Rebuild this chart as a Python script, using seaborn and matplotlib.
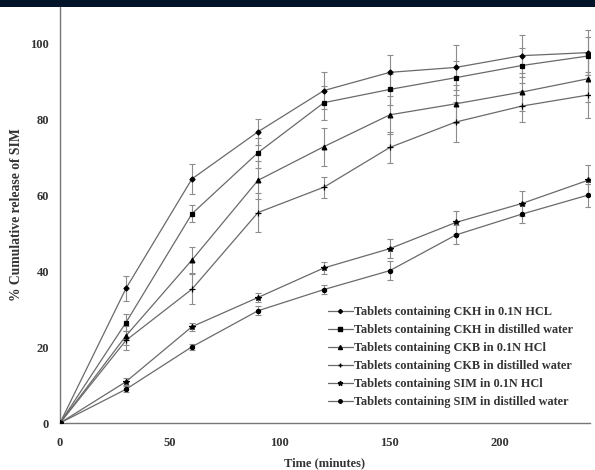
import matplotlib
matplotlib.use("Agg")
import matplotlib.pyplot as plt
from matplotlib.lines import Line2D
from matplotlib.patches import Rectangle
import numpy as np
import pandas as pd
import seaborn as sns

# Sampling times (minutes)
time_min = [0, 30, 60, 90, 120, 150, 180, 210, 240]

series_labels = [
    "Tablets containing CKH in 0.1N HCL",
    "Tablets containing CKH in distilled water",
    "Tablets containing CKB in 0.1N HCl",
    "Tablets containing CKB in distilled water",
    "Tablets containing SIM in 0.1N HCl",
    "Tablets containing SIM in distilled water",
]

# Mean cumulative release (%)
ckh_hcl = [0, 35.5, 64.4, 76.8, 87.7, 92.5, 93.8, 96.9, 97.7]
ckh_water = [0, 26.5, 55.2, 71.3, 84.5, 88.0, 91.1, 94.3, 96.8]
ckb_hcl = [0, 23.0, 43.0, 64.0, 72.9, 81.3, 84.2, 87.3, 90.8]
ckb_water = [0, 21.8, 35.3, 55.5, 62.2, 72.7, 79.4, 83.6, 86.5]
sim_hcl = [0, 10.9, 25.4, 33.1, 40.9, 46.0, 52.9, 57.9, 64.0]
sim_water = [0, 8.9, 20.1, 29.6, 35.2, 40.2, 49.6, 55.1, 60.1]

# Standard deviations
ckh_hcl_sd = [0, 3.4, 4.0, 3.4, 5.0, 4.7, 6.0, 5.5, 6.0]
ckh_water_sd = [0, 2.2, 2.2, 4.0, 4.5, 4.0, 4.5, 4.5, 5.0]
ckb_hcl_sd = [0, 2.5, 3.3, 5.0, 5.0, 5.0, 5.0, 5.0, 6.0]
ckb_water_sd = [0, 2.6, 3.9, 5.2, 2.8, 4.0, 5.4, 4.1, 6.0]
sim_hcl_sd = [0, 1.0, 1.0, 1.2, 1.5, 2.5, 3.0, 3.4, 4.0]
sim_water_sd = [0, 0.8, 0.8, 1.2, 1.2, 2.5, 2.5, 2.3, 3.0]

means = [ckh_hcl, ckh_water, ckb_hcl, ckb_water, sim_hcl, sim_water]
sds = [ckh_hcl_sd, ckh_water_sd, ckb_hcl_sd, ckb_water_sd, sim_hcl_sd, sim_water_sd]
marker_list = ["D", "s", "^", "+", "*", "o"]
marker_sizes = [2.6, 3.4, 3.4, 4.0, 4.0, 3.0]

x_ticks = [0, 50, 100, 150, 200]
y_ticks = [0, 20, 40, 60, 80, 100]

rows = []
for lab, m in zip(series_labels, means):
    for t, v in zip(time_min, m):
        rows.append({"Time": t, "Release": v, "Formulation": lab})
df = pd.DataFrame(rows)

sns.set_theme(style="white")
plt.rcParams["font.family"] = ["Liberation Serif", "DejaVu Serif"]
plt.rcParams["font.weight"] = "bold"

fig = plt.figure(figsize=(5.95, 4.7), dpi=100)
ax = fig.add_axes([60 / 595, 47 / 470, 530 / 595, 417 / 470])

line_color = "#6a6a6a"
text_color = "#333333"
sns.lineplot(
    data=df, x="Time", y="Release", hue="Formulation", style="Formulation",
    hue_order=series_labels, style_order=series_labels,
    palette=[line_color] * 6, dashes=False, markers=False,
    linewidth=0.9, legend=False, ax=ax, zorder=2,
)

handles = []
for lab, m, sd, mk, ms in zip(series_labels, means, sds, marker_list, marker_sizes):
    ax.errorbar(time_min, m, yerr=sd, fmt="none", ecolor="#8c8c8c",
                elinewidth=0.8, capsize=2.5, capthick=0.8, zorder=1)
    ax.plot(time_min, m, linestyle="none", marker=mk, markersize=ms,
            color="black", markeredgewidth=0.9, zorder=3)
    handles.append(Line2D([0], [0], color=line_color, linewidth=0.9,
                          marker=mk, markersize=ms - 0.5,
                          markerfacecolor="black", markeredgecolor="black"))

ax.set_xlim(0, 241)
ax.set_ylim(0, 110)
ax.set_xticks(x_ticks)
ax.set_yticks(y_ticks)
ax.tick_params(axis="both", which="major", direction="out", length=3,
               width=0.8, color="#777777", labelsize=9)
ax.tick_params(axis="x", pad=7)
ax.tick_params(axis="y", pad=5)
for lbl in ax.get_xticklabels() + ax.get_yticklabels():
    lbl.set_fontweight("bold")
    lbl.set_color(text_color)

for side in ["top", "right"]:
    ax.spines[side].set_visible(False)
for side in ["left", "bottom"]:
    ax.spines[side].set_color("#777777")
    ax.spines[side].set_linewidth(1.0)

ax.set_xlabel("Time (minutes)", fontsize=9, fontweight="bold",
              color=text_color, labelpad=6)
ax.set_ylabel("% Cumulative release of SIM", fontsize=9.8, fontweight="bold",
              color=text_color, labelpad=5)

leg = ax.legend(handles, series_labels, loc="lower left",
                bbox_to_anchor=(0.505, 0.035), frameon=False,
                prop={"family": "Liberation Serif", "weight": "bold", "size": 8.8},
                labelspacing=0.5, handlelength=2.05, handletextpad=0.12,
                borderpad=0, borderaxespad=0)
for txt in leg.get_texts():
    txt.set_color(text_color)

# dark banner strip along the top edge
fig.patches.append(Rectangle((0, 1 - 7 / 470), 1, 7 / 470, transform=fig.transFigure,
                             facecolor="#03142a", edgecolor="none", zorder=10))

fig.savefig("out.png", dpi=100)
